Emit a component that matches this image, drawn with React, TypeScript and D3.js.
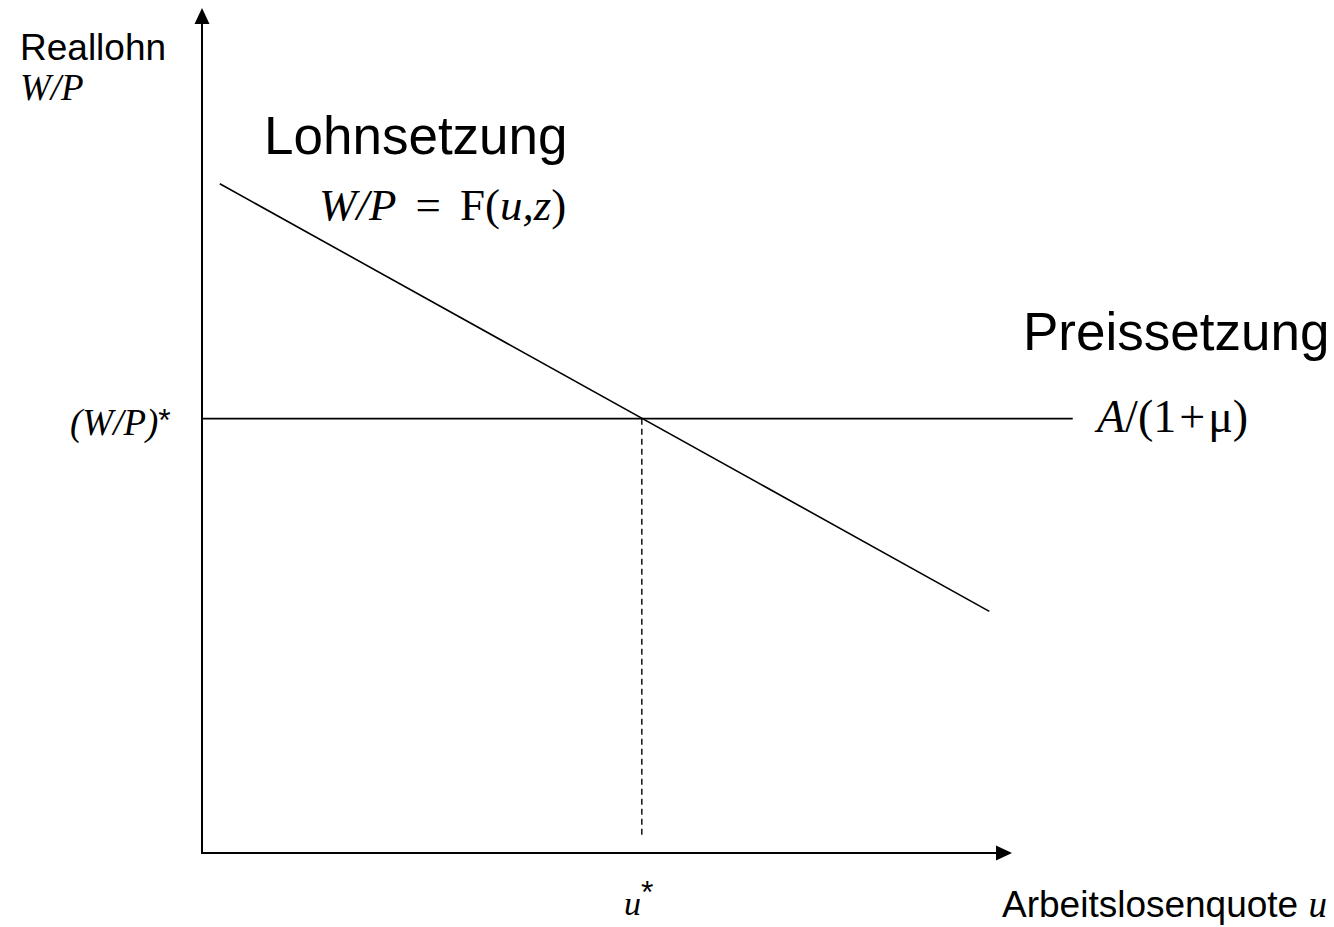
import React from "react";
import * as d3 from "d3";

// Data in abstract units (u: 0..100, W/P: 0..100)
const xDomain: [number, number] = [0, 100];
const yDomain: [number, number] = [0, 100];
const wageSetting: [number, number][] = [
  [2.2, 79.2],
  [97.2, 28.6],
];
const priceSetting: [number, number][] = [
  [0, 51.4],
  [107.5, 51.4],
];
const uStar = 54.3;
const wpStar = 51.4;
const dashedBottom = 1.8;

const W = 1334;
const H = 927;

export default function App() {
  const x = d3.scaleLinear().domain(xDomain).range([202, 1012]);
  const y = d3.scaleLinear().domain(yDomain).range([853, 8]);
  const line = d3
    .line<[number, number]>()
    .x((d) => x(d[0]))
    .y((d) => y(d[1]));

  const sans = "Arial, 'Liberation Sans', Helvetica, sans-serif";
  const serif = "'Times New Roman', 'Liberation Serif', Times, serif";

  const x0 = x(0);
  const y0 = y(0);
  const xEnd = x(xDomain[1]);
  const yEnd = y(yDomain[1]);

  return (
    <svg
      width={W}
      height={H}
      style={{ position: "absolute", left: 0, top: 0, background: "#fff" }}
    >
      {/* axes */}
      <line x1={x0} y1={y0} x2={x0} y2={yEnd + 14} stroke="#000" strokeWidth={2} />
      <polygon
        points={`${x0},${yEnd} ${x0 - 7.5},${yEnd + 16} ${x0 + 7.5},${yEnd + 16}`}
        fill="#000"
      />
      <line x1={x0 - 1} y1={y0} x2={xEnd - 14} y2={y0} stroke="#000" strokeWidth={2} />
      <polygon
        points={`${xEnd},${y0} ${xEnd - 16},${y0 - 7.5} ${xEnd - 16},${y0 + 7.5}`}
        fill="#000"
      />

      {/* price setting line */}
      <path d={line(priceSetting) || ""} stroke="#000" strokeWidth={1.6} fill="none" />
      {/* wage setting line */}
      <path d={line(wageSetting) || ""} stroke="#000" strokeWidth={1.6} fill="none" />
      {/* dashed u* */}
      <line
        x1={x(uStar)}
        y1={y(wpStar)}
        x2={x(uStar)}
        y2={y(dashedBottom)}
        stroke="#000"
        strokeWidth={1.4}
        strokeDasharray="6 4"
      />

      {/* y label */}
      <text x={20} y={60} fontFamily={sans} fontSize={37} fill="#000">
        Reallohn
      </text>
      <text x={20} y={100} fontFamily={serif} fontSize={37} fontStyle="italic" fill="#000">
        W/P
      </text>

      {/* (W/P)* */}
      <text x={70} y={435} fontFamily={serif} fontSize={37} fill="#000">
        <tspan fontStyle="italic">(W/P)</tspan>
        <tspan fontFamily={sans} fontSize={32} dy={-4}>*</tspan>
      </text>

      {/* Lohnsetzung */}
      <text x={264} y={154} fontFamily={sans} fontSize={53} fill="#000">
        Lohnsetzung
      </text>
      <text x={319} y={220} fontFamily={serif} fontSize={45} fill="#000">
        <tspan fontStyle="italic">W/P</tspan>
        <tspan dx={19}>=</tspan>
        <tspan dx={19}>F(</tspan>
        <tspan fontStyle="italic">u,z</tspan>
        <tspan>)</tspan>
      </text>

      {/* Preissetzung */}
      <text x={1023} y={350} fontFamily={sans} fontSize={53} fill="#000">
        Preissetzung
      </text>
      <text x={1097} y={432} fontFamily={serif} fontSize={46} fill="#000">
        <tspan fontStyle="italic">A</tspan>
        <tspan>/(1</tspan>
        <tspan dx={3}>+</tspan>
        <tspan dx={3}>μ)</tspan>
      </text>

      {/* u* */}
      <text x={624} y={915} fontFamily={serif} fontSize={34} fill="#000">
        <tspan fontStyle="italic">u</tspan>
        <tspan fontFamily={sans} fontSize={32} dy={-12}>*</tspan>
      </text>

      {/* x label */}
      <text x={1002} y={917} fontFamily={sans} fontSize={37} fill="#000">
        Arbeitslosenquote{" "}
        <tspan fontFamily={serif} fontStyle="italic">u</tspan>
      </text>
    </svg>
  );
}
